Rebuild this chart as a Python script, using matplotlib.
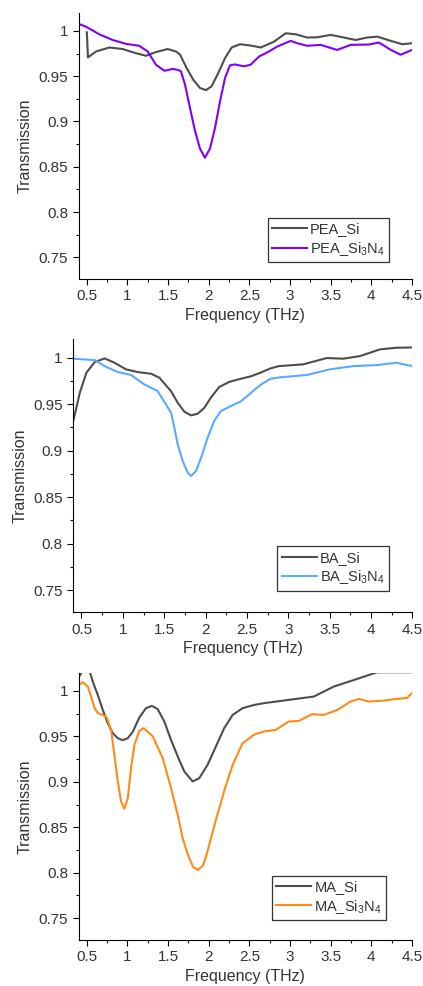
import numpy as np
import matplotlib
matplotlib.use("Agg")
import matplotlib.pyplot as plt
from matplotlib.ticker import MultipleLocator, FormatStrFormatter

plt.rcParams['font.family'] = ['Liberation Sans', 'DejaVu Sans']
plt.rcParams['mathtext.fontset'] = 'custom'
plt.rcParams['mathtext.rm'] = 'Liberation Sans'
plt.rcParams['mathtext.it'] = 'Liberation Sans:italic'

# PEA samples
pea_si_f = [0.50, 0.505, 0.514, 0.613, 0.777, 0.941, 1.105, 1.228, 1.35, 1.495, 1.597, 1.646, 1.728, 1.81,
            1.892, 1.966, 2.036, 2.117, 2.20, 2.282, 2.384, 2.507, 2.64, 2.80, 2.946, 3.07, 3.21, 3.335, 3.50,
            3.663, 3.807, 3.95, 4.073, 4.24, 4.38, 4.50]
pea_si_t = [0.9985, 0.990, 0.9707, 0.9773, 0.9817, 0.980, 0.9754, 0.9726, 0.9766, 0.980, 0.9773, 0.974, 0.959,
            0.946, 0.937, 0.9346, 0.939, 0.9535, 0.970, 0.9817, 0.9853, 0.984, 0.9817, 0.988, 0.9974, 0.9963,
            0.9927, 0.993, 0.9956, 0.9927, 0.990, 0.9927, 0.9937, 0.989, 0.9853, 0.9864]
pea_sin_f = [0.40, 0.49, 0.653, 0.818, 0.982, 1.145, 1.249, 1.35, 1.453, 1.556, 1.62, 1.658, 1.707, 1.769,
             1.83, 1.892, 1.953, 2.015, 2.077, 2.138, 2.20, 2.261, 2.32, 2.433, 2.515, 2.62, 2.74, 2.843,
             3.007, 3.09, 3.21, 3.376, 3.58, 3.745, 3.97, 4.094, 4.24, 4.36, 4.50]
pea_sin_t = [1.0077, 1.0047, 0.9963, 0.990, 0.9857, 0.9836, 0.9773, 0.9627, 0.956, 0.958, 0.957, 0.9554, 0.941,
             0.915, 0.890, 0.870, 0.860, 0.870, 0.893, 0.922, 0.948, 0.962, 0.963, 0.9609, 0.9627, 0.9718,
             0.9773, 0.9828, 0.989, 0.9864, 0.9836, 0.9846, 0.979, 0.9846, 0.985, 0.9872, 0.979, 0.9737, 0.979]

# BA samples
ba_si_f = [0.40, 0.42, 0.48, 0.56, 0.66, 0.78, 0.90, 1.04, 1.18, 1.342, 1.442, 1.583, 1.663, 1.743, 1.824,
           1.904, 1.984, 2.064, 2.164, 2.285, 2.425, 2.546, 2.666, 2.786, 2.886, 3.18, 3.464, 3.665, 3.866,
           4.107, 4.306, 4.50]
ba_si_t = [0.932, 0.939, 0.9623, 0.9839, 0.9954, 0.9993, 0.9946, 0.9875, 0.9846, 0.9828, 0.9785, 0.964, 0.9516,
           0.942, 0.938, 0.9397, 0.946, 0.957, 0.9685, 0.974, 0.9774, 0.980, 0.984, 0.9886, 0.991, 0.9929,
           0.9997, 0.999, 1.0018, 1.009, 1.0108, 1.0111]
ba_sin_f = [0.40, 0.66, 0.78, 0.94, 1.10, 1.26, 1.42, 1.483, 1.583, 1.623, 1.663, 1.724, 1.784, 1.824, 1.884,
            1.944, 2.025, 2.104, 2.185, 2.305, 2.425, 2.546, 2.666, 2.786, 2.907, 3.22, 3.50, 3.785, 4.066,
            4.306, 4.50]
ba_sin_t = [0.999, 0.9975, 0.991, 0.9846, 0.9814, 0.9713, 0.9642, 0.9552, 0.9408, 0.9247, 0.9068, 0.8888,
            0.8762, 0.8727, 0.878, 0.892, 0.914, 0.932, 0.9426, 0.948, 0.953, 0.962, 0.971, 0.9774, 0.979,
            0.9814, 0.9875, 0.991, 0.9921, 0.9946, 0.991]

# MA samples
ma_si_f = [0.40, 0.43, 0.46, 0.52, 0.55, 0.574, 0.635, 0.697, 0.758, 0.819, 0.881, 0.942, 1.004, 1.065, 1.146,
           1.228, 1.302, 1.372, 1.453, 1.536, 1.618, 1.699, 1.802, 1.883, 1.986, 2.088, 2.19, 2.294, 2.416,
           2.559, 2.678, 3.047, 3.292, 3.538, 3.784, 4.07, 4.50]
ma_si_t = [1.015, 1.0195, 1.025, 1.025, 1.017, 1.010, 0.9956, 0.979, 0.9645, 0.9535, 0.948, 0.9458, 0.948,
           0.955, 0.9707, 0.981, 0.9835, 0.980, 0.9664, 0.946, 0.928, 0.9114, 0.9004, 0.904, 0.9187, 0.939,
           0.959, 0.9736, 0.981, 0.9846, 0.9865, 0.9909, 0.9938, 1.0048, 1.012, 1.0205, 1.0205]
ma_sin_f = [0.402, 0.451, 0.512, 0.553, 0.593, 0.635, 0.697, 0.746, 0.799, 0.839, 0.881, 0.921, 0.962, 1.004,
            1.044, 1.085, 1.146, 1.20, 1.311, 1.434, 1.536, 1.618, 1.679, 1.75, 1.81, 1.87, 1.93, 1.98,
            2.027, 2.10, 2.20, 2.294, 2.416, 2.555, 2.678, 2.822, 2.985, 3.108, 3.272, 3.415, 3.579, 3.743,
            3.845, 3.968, 4.152, 4.316, 4.439, 4.50]
ma_sin_t = [1.0066, 1.0096, 1.0048, 0.9938, 0.9817, 0.9755, 0.9736, 0.9708, 0.957, 0.9297, 0.9004, 0.8785,
            0.8703, 0.882, 0.915, 0.9407, 0.956, 0.959, 0.950, 0.926, 0.893, 0.8637, 0.838, 0.818, 0.806,
            0.803, 0.808, 0.822, 0.838, 0.862, 0.893, 0.9187, 0.9425, 0.9517, 0.9554, 0.9571, 0.9664, 0.967,
            0.9744, 0.9736, 0.979, 0.9883, 0.9912, 0.9883, 0.9894, 0.9912, 0.9923, 0.9975]

gray = '#4d4d4d'
panels = [
    ([0.186, 0.717, 0.788, 0.270], (pea_si_f, pea_si_t, 'PEA_Si'),
     (pea_sin_f, pea_sin_t, 'PEA_Si$_3$N$_4$', '#8000ff'), (0.931, 0.064)),
    ([0.173, 0.379, 0.802, 0.277], (ba_si_f, ba_si_t, 'BA_Si'),
     (ba_sin_f, ba_sin_t, 'BA_Si$_3$N$_4$', '#5aaaff'), (0.931, 0.079)),
    ([0.186, 0.0467, 0.788, 0.271], (ma_si_f, ma_si_t, 'MA_Si'),
     (ma_sin_f, ma_sin_t, 'MA_Si$_3$N$_4$', '#ff8a1a'), (0.922, 0.075)),
]

fig = plt.figure(figsize=(4.23, 9.86), dpi=100)

for rect, si, sin, leg_pos in panels:
    ax = fig.add_axes(rect)
    ax.plot(si[0], si[1], color=gray, lw=1.5, label=si[2], solid_joinstyle='round')
    ax.plot(sin[0], sin[1], color=sin[3], lw=1.5, label=sin[2], solid_joinstyle='round')
    ax.set_xlim(0.4, 4.5)
    ax.set_ylim(0.726, 1.02)
    ax.xaxis.set_major_locator(MultipleLocator(0.5))
    ax.xaxis.set_minor_locator(MultipleLocator(0.25))
    ax.yaxis.set_major_locator(MultipleLocator(0.05))
    ax.yaxis.set_minor_locator(MultipleLocator(0.025))
    ax.xaxis.set_major_formatter(FormatStrFormatter('%g'))
    ax.yaxis.set_major_formatter(FormatStrFormatter('%g'))
    ax.tick_params(which='major', length=4, width=0.8, labelsize=11, labelcolor='#333333')
    ax.tick_params(which='minor', length=2, width=0.8)
    for side in ('top', 'right'):
        ax.spines[side].set_visible(False)
    ax.set_xlabel('Frequency (THz)', fontsize=11.5, color='#333333', labelpad=3)
    ax.set_ylabel('Transmission', fontsize=11.5, color='#333333')
    leg = ax.legend(loc='lower right', bbox_to_anchor=leg_pos, borderaxespad=0, fontsize=10.5,
                    frameon=True, fancybox=False, edgecolor='black', handlelength=2.4,
                    handletextpad=0.2, labelspacing=0.25, borderpad=0.3)
    leg.get_frame().set_linewidth(0.9)
    for t in leg.get_texts():
        t.set_color('#333333')

fig.savefig('out.png', dpi=100)
